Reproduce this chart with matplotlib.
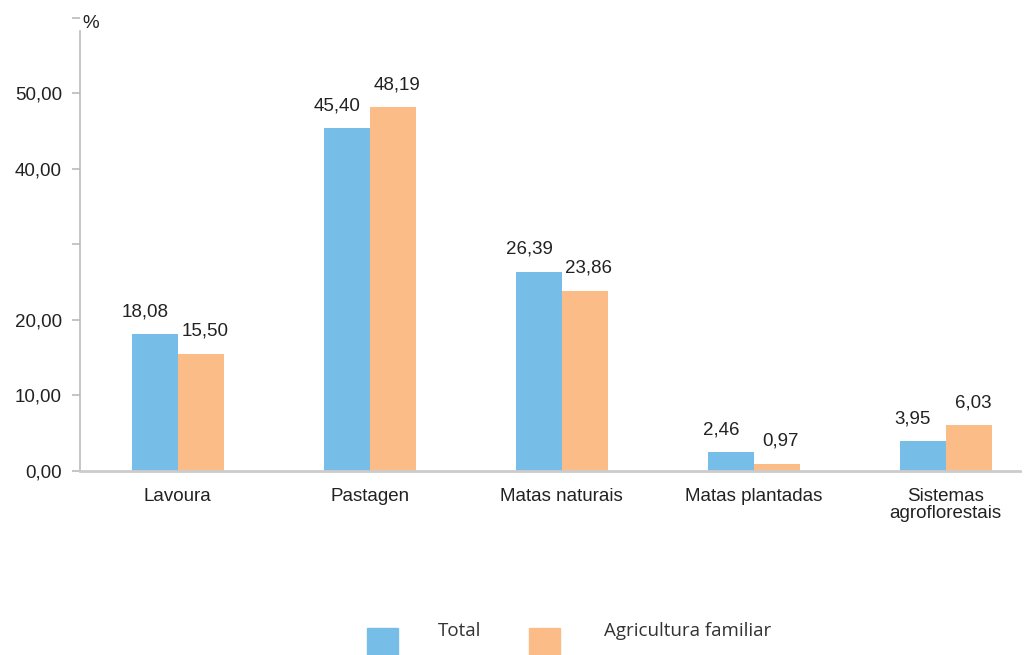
import numpy as np
import matplotlib.pyplot as plt
from matplotlib.patches import Rectangle

categories = ["Lavoura", "Pastagen", "Matas naturais", "Matas plantadas", "Sistemas\nagroflorestais"]
total = [18.08, 45.40, 26.39, 2.46, 3.95]
familiar = [15.50, 48.19, 23.86, 0.97, 6.03]
yticks = [0, 10, 20, 30, 40, 50, 60]
yticklabels = ["0,00", "10,00", "20,00", "", "40,00", "50,00", ""]
series_names = ["Total", "Agricultura familiar"]

blue = "#76BDE8"
orange = "#FBBC87"
txt = "#222222"
fs = 13.5

plt.rcParams['font.family'] = ['Liberation Sans', 'DejaVu Sans']

fig = plt.figure(figsize=(10.28, 6.55), dpi=100)
ax = fig.add_axes([0.0778, 0.281, 0.914, 0.692])

x = np.arange(len(categories))
w = 0.24
ax.bar(x - w / 2, total, w, color=blue)
ax.bar(x + w / 2, familiar, w, color=orange)

def fmt(v):
    return f"{v:.2f}".replace(".", ",")

# value labels sit a bit off-center like in the original
for xi, v in zip(x, total):
    ax.annotate(fmt(v), (xi - w / 2, v), xytext=(-7, 10), textcoords="offset points",
                ha="center", va="bottom", fontsize=fs, color=txt)
for xi, v in zip(x, familiar):
    ax.annotate(fmt(v), (xi + w / 2, v), xytext=(3, 10), textcoords="offset points",
                ha="center", va="bottom", fontsize=fs, color=txt)

ax.set_xlim(-0.51, 4.385)
ax.set_ylim(0, 60)
ax.set_yticks(yticks)
ax.set_yticklabels(yticklabels, fontsize=fs, color=txt)
ax.set_xticks(x)
ax.set_xticklabels(categories, fontsize=fs, color=txt, linespacing=1.05)
ax.tick_params(axis="x", length=0, pad=12)
ax.tick_params(axis="y", length=6, color="#BBBBBB", width=1.2, pad=7)

for s in ["top", "right"]:
    ax.spines[s].set_visible(False)
ax.spines["left"].set_color("#BBBBBB")
ax.spines["left"].set_linewidth(1.2)
ax.spines["left"].set_bounds(0, 58.3)
ax.spines["bottom"].set_color("#CCCCCC")
ax.spines["bottom"].set_linewidth(2)

fig.text(91 / 1028, 1 - 23 / 655, "%", fontsize=fs, color=txt, ha="center", va="center")

# legend drawn by hand, squares cut off at the bottom edge
for px, col in [(367, blue), (529, orange)]:
    fig.add_artist(Rectangle((px / 1028, 0), 31 / 1028, 27 / 655, transform=fig.transFigure,
                             color=col))
fig.text(438 / 1028, 1 - 631 / 655, series_names[0], fontsize=13.5, family="Open Sans",
         color="#333333", va="center")
fig.text(604 / 1028, 1 - 631 / 655, series_names[1], fontsize=13.5, family="Open Sans",
         color="#333333", va="center")

fig.savefig("out.png", dpi=100)
